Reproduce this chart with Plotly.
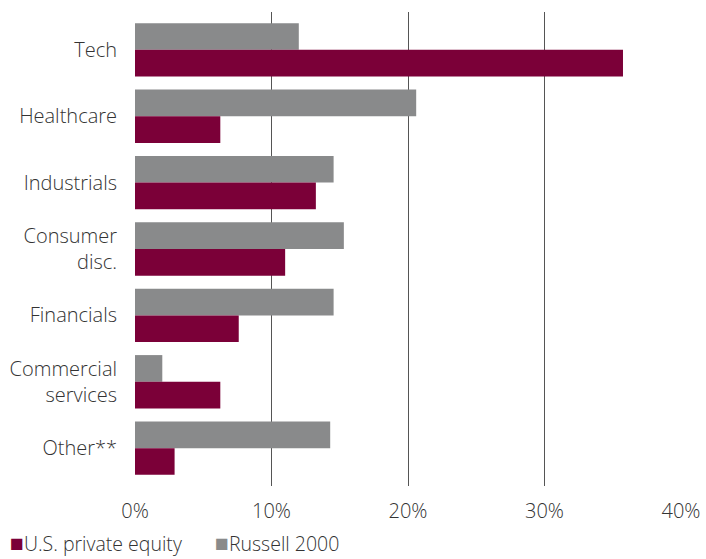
import plotly.graph_objects as go

# Sector weights (%) for U.S. private equity vs. the Russell 2000
sectors = ["Tech", "Healthcare", "Industrials", "Consumer<br>disc.",
           "Financials", "Commercial<br>services", "Other**"]
private_equity = [35.75, 6.25, 13.25, 11.0, 7.6, 6.25, 2.9]
russell_2000 = [12.0, 20.6, 14.55, 15.3, 14.55, 2.0, 14.3]

x_ticks = [0, 10, 20, 30, 40]
x_tick_labels = ["0%", "10%", "20%", "30%", "40%"]

PE_COLOR = "#7b0038"
RUSSELL_COLOR = "#898a8b"
TEXT_COLOR = "#333333"
FONT = "Open Sans"
FONT_SIZE = 20
FONT_WEIGHT = 350

fig = go.Figure()
# Russell first so it sits on top of each pair (y axis is reversed)
fig.add_trace(go.Bar(
    y=sectors, x=russell_2000, orientation="h", name="Russell 2000",
    marker=dict(color=RUSSELL_COLOR, line=dict(width=0)),
))
fig.add_trace(go.Bar(
    y=sectors, x=private_equity, orientation="h", name="U.S. private equity",
    marker=dict(color=PE_COLOR, line=dict(width=0)),
))

# Legend drawn as a text row under the axis
legend_items = [("U.S. private equity", PE_COLOR, -0.2318),
                ("Russell 2000", RUSSELL_COLOR, 0.1430)]
for label, color, xpos in legend_items:
    fig.add_annotation(
        xref="paper", yref="paper", x=xpos, y=-0.1190,
        xanchor="left", yanchor="middle", showarrow=False,
        text=f"<span style='color:{color};font-size:23px'>■</span>{label}",
        font=dict(family=FONT, size=19.5, color=TEXT_COLOR,
                  weight=FONT_WEIGHT),
    )

fig.update_layout(
    width=706, height=559,
    margin=dict(l=135, r=25, t=12, b=73, autoexpand=False),
    paper_bgcolor="white", plot_bgcolor="white",
    barmode="group", bargap=0.196, bargroupgap=0,
    showlegend=False,
    font=dict(family=FONT, size=FONT_SIZE, color=TEXT_COLOR,
              weight=FONT_WEIGHT),
    xaxis=dict(
        range=[0, 40], tickvals=x_ticks, ticktext=x_tick_labels,
        showgrid=True, gridcolor="#555555", gridwidth=1.3,
        zeroline=False, showline=False, ticks="",
        ticklabelstandoff=11,
    ),
    yaxis=dict(
        type="category", categoryorder="array", categoryarray=sectors,
        range=[6.57, -0.57], showgrid=False, zeroline=False,
        showline=False, ticks="", ticklabelstandoff=17,
    ),
)

fig.write_html("out.html")
